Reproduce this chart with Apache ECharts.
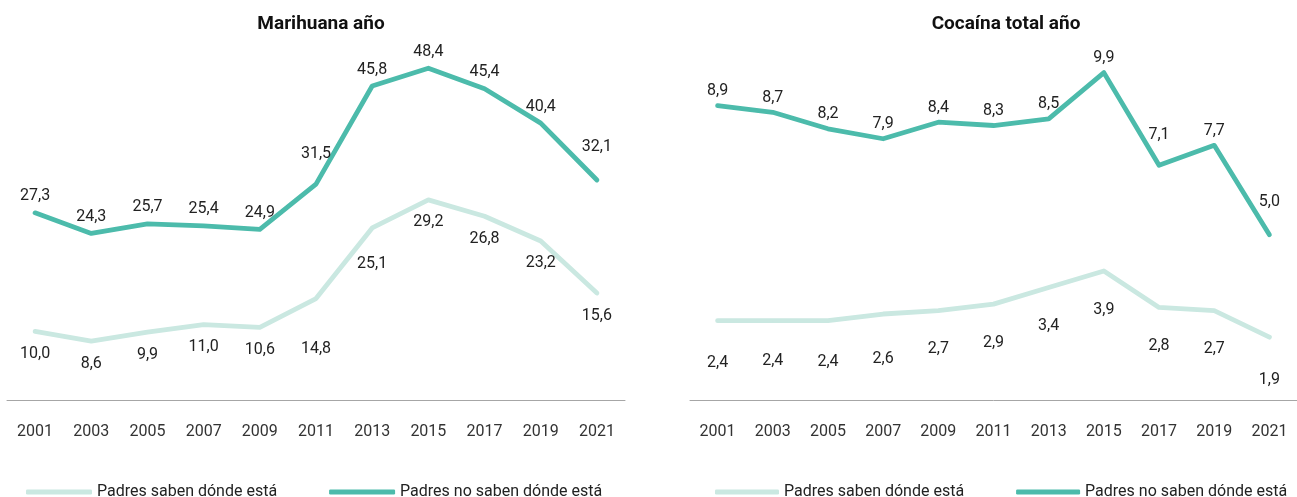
<!DOCTYPE html>
<html><head><meta charset="utf-8">
<script src="https://cdn.jsdelivr.net/npm/echarts@6/dist/echarts.min.js"></script>
<style>html,body{margin:0;padding:0;background:#fff}#c{width:1297px;height:497px}</style>
</head><body><div id="c"></div>
<script>
const years = ['2001','2003','2005','2007','2009','2011','2013','2015','2017','2019','2021'];
const seriesNames = ['Padres saben dónde está', 'Padres no saben dónde está'];
const titles = ['Marihuana año', 'Cocaína total año'];
const marihuanaSaben = [10.0, 8.6, 9.9, 11.0, 10.6, 14.8, 25.1, 29.2, 26.8, 23.2, 15.6];
const marihuanaNoSaben = [27.3, 24.3, 25.7, 25.4, 24.9, 31.5, 45.8, 48.4, 45.4, 40.4, 32.1];
const cocainaSaben = [2.4, 2.4, 2.4, 2.6, 2.7, 2.9, 3.4, 3.9, 2.8, 2.7, 1.9];
const cocainaNoSaben = [8.9, 8.7, 8.2, 7.9, 8.4, 8.3, 8.5, 9.9, 7.1, 7.7, 5.0];

const FONT = 'Roboto, "Liberation Sans", sans-serif';
const DARK = '#4cbbab';
const LIGHT = '#cae8e1';
const fmt = v => v.toFixed(1).replace('.', ',');

// label distance tweaks (style only)
const labelDist = {
  mS: {5: 42, 6: 28},
  mN: {5: 22, 10: 24},
  cS: {0: 34, 1: 32, 2: 33, 3: 36, 10: 34},
  cN: {8: 22, 10: 24}
};

function mkSeries(name, data, color, xi, key, pos, baseDist) {
  return {
    type: 'line', name: name, xAxisIndex: xi, yAxisIndex: xi,
    data: data.map((v, i) => ({
      value: v,
      label: { distance: labelDist[key][i] !== undefined ? labelDist[key][i] : baseDist }
    })),
    symbol: 'circle', symbolSize: 1, showSymbol: true, showAllSymbol: true,
    itemStyle: { color: color },
    lineStyle: { color: color, width: 4.8, cap: 'round', join: 'round' },
    label: { show: true, position: pos, formatter: p => fmt(p.value), fontFamily: FONT, fontSize: 16, color: '#222' },
    labelLayout: { hideOverlap: false },
    emphasis: { disabled: true },
    z: name === seriesNames[1] ? 3 : 2
  };
}

const chart = echarts.init(document.getElementById('c'));
const axisCommon = {
  type: 'category', data: years, boundaryGap: true,
  axisLine: { lineStyle: { color: '#a6a6a6', width: 1 } },
  axisTick: { show: false },
  axisLabel: { fontFamily: FONT, fontSize: 16, color: '#333', margin: 24, interval: 0 }
};
const legendText = { fontFamily: FONT, fontSize: 16, color: '#222' };
const titleText = { fontFamily: FONT, fontSize: 19, fontWeight: 'bold', color: '#111' };
chart.setOption({
  animation: false,
  title: [
    { text: titles[0], left: 316, top: 10, textAlign: 'center', textStyle: titleText },
    { text: titles[1], left: 1001, top: 10, textAlign: 'center', textStyle: titleText }
  ],
  legend: [
    { data: seriesNames, left: 21, top: 479, width: 620, itemWidth: 66, itemHeight: 5, itemGap: 52, icon: 'roundRect', textStyle: legendText },
    { data: seriesNames, left: 710, top: 479, width: 620, itemWidth: 64, itemHeight: 5, itemGap: 52, icon: 'roundRect', textStyle: legendText }
  ],
  grid: [
    { left: 7, top: 23, width: 618, height: 377 },
    { left: 690, top: 23, width: 618, height: 377 }
  ],
  xAxis: [ Object.assign({ gridIndex: 0 }, axisCommon), Object.assign({ gridIndex: 1 }, axisCommon) ],
  yAxis: [
    { type: 'value', gridIndex: 0, min: 0, max: 55, show: false, splitLine: { show: false } },
    { type: 'value', gridIndex: 1, min: 0, max: 11.4, show: false, splitLine: { show: false } }
  ],
  series: [
    mkSeries(seriesNames[0], marihuanaSaben, LIGHT, 0, 'mS', 'bottom', 14),
    mkSeries(seriesNames[1], marihuanaNoSaben, DARK, 0, 'mN', 'top', 8),
    mkSeries(seriesNames[0], cocainaSaben, LIGHT, 1, 'cS', 'bottom', 30),
    mkSeries(seriesNames[1], cocainaNoSaben, DARK, 1, 'cN', 'top', 6)
  ]
});
</script></body></html>
